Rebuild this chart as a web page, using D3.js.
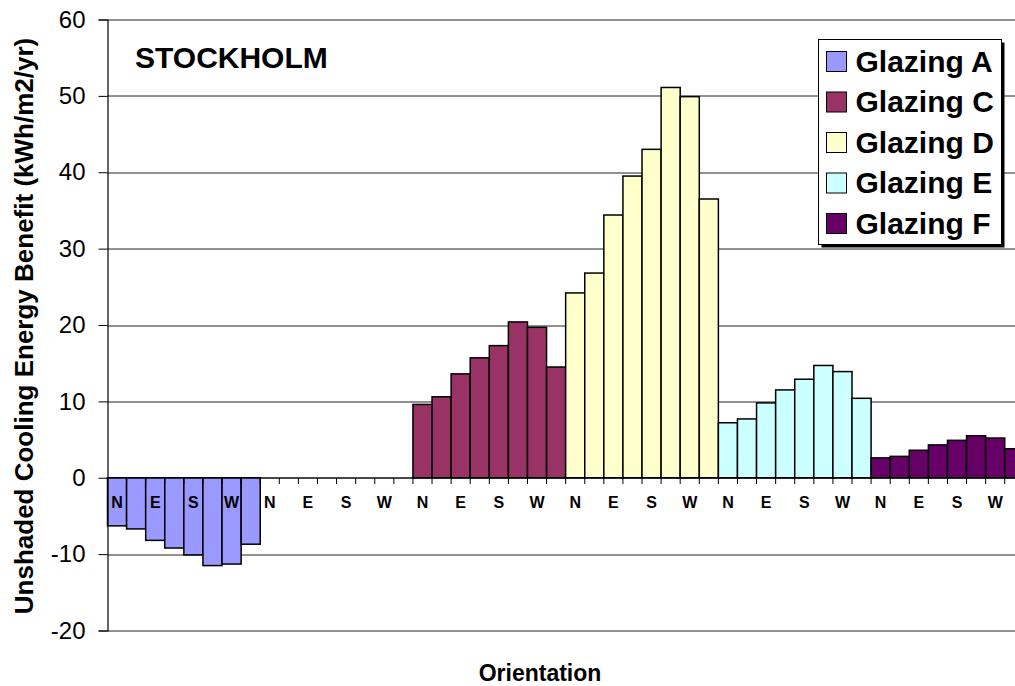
<!DOCTYPE html>
<html>
<head>
<meta charset="utf-8">
<script src="https://cdn.jsdelivr.net/npm/d3@7"></script>
<style>
	body { margin: 0; background: #fff; }
	text { font-family: "Liberation Sans", Arial, sans-serif; }
</style>
</head>
<body>
<div id="chart"></div>
<script>
// Orientations within each glazing group
const orientations = ['N', 'NE', 'E', 'SE', 'S', 'SW', 'W', 'NW'];
const shownLabels = ['N', 'E', 'S', 'W'];

// Glazing groups along the x-axis (B has no bars)
const glazings = ['A', 'B', 'C', 'D', 'E', 'F'];
const legendNames = ['Glazing A', 'Glazing C', 'Glazing D', 'Glazing E', 'Glazing F'];

// Cooling energy benefit per orientation (kWh/m2/yr)
const glazingA = [-6.3, -6.7, -8.2, -9.2, -10.1, -11.5, -11.3, -8.7];
const glazingB = [];
const glazingC = [9.6, 10.6, 13.6, 15.7, 17.3, 20.4, 19.7, 14.5];
const glazingD = [24.2, 26.8, 34.4, 39.5, 43.0, 51.1, 49.9, 36.5];
const glazingE = [7.2, 7.7, 9.8, 11.5, 12.9, 14.7, 13.9, 10.4];
const glazingF = [2.6, 2.8, 3.6, 4.3, 4.9, 5.5, 5.2, 3.8];

const yTicks = [-20, -10, 0, 10, 20, 30, 40, 50, 60];

const colours = {
	A: '#9999ff',
	B: '#ffffff',
	C: '#993366',
	D: '#ffffcc',
	E: '#ccffff',
	F: '#660066'
};

generateChart();

function generateChart() {
	const width = 1015;
	const height = 686;
	const left = 107.5;
	const top = 19.5;
	const bandWidth = 19.09;
	const chartWidth = bandWidth * glazings.length * orientations.length;
	const chartHeight = 611;

	const seriesValues = { A: glazingA, B: glazingB, C: glazingC, D: glazingD, E: glazingE, F: glazingF };

	// One slot per glazing/orientation pair
	const slots = [];
	glazings.forEach((g) => {
		orientations.forEach((o, i) => {
			slots.push({ glazing: g, orientation: o, key: g + '-' + o, value: seriesValues[g][i] });
		});
	});

	const xScale = d3.scaleBand()
		.domain(slots.map((s) => s.key))
		.range([0, chartWidth])
		.padding(0);

	const yScale = d3.scaleLinear()
		.domain([-20, 60])
		.range([chartHeight, 0]);

	const svg = d3.select('#chart')
		.append('svg')
		.attr('width', width)
		.attr('height', height);

	const canvas = svg.append('g')
		.attr('transform', `translate(${left}, ${top})`);

	// Horizontal gridlines
	canvas.append('g')
		.selectAll('line')
		.data(yTicks)
		.enter()
		.append('line')
		.attr('x1', 0)
		.attr('x2', chartWidth)
		.attr('y1', (d) => Math.round(yScale(d)) + 0.5)
		.attr('y2', (d) => Math.round(yScale(d)) + 0.5)
		.attr('stroke', '#222')
		.attr('stroke-width', 1);

	// Bars
	canvas.append('g')
		.selectAll('rect')
		.data(slots.filter((s) => s.value !== undefined))
		.enter()
		.append('rect')
		.attr('x', (d) => xScale(d.key))
		.attr('y', (d) => yScale(Math.max(0, d.value)))
		.attr('width', xScale.bandwidth())
		.attr('height', (d) => Math.abs(yScale(d.value) - yScale(0)))
		.attr('fill', (d) => colours[d.glazing])
		.attr('stroke', '#000')
		.attr('stroke-width', 1.5);

	// Category axis on the zero line, ticks at band edges
	const zeroY = Math.round(yScale(0)) + 0.5;
	canvas.append('line')
		.attr('x1', 0)
		.attr('x2', chartWidth)
		.attr('y1', zeroY)
		.attr('y2', zeroY)
		.attr('stroke', '#000')
		.attr('stroke-width', 1.2);

	canvas.append('g')
		.selectAll('line')
		.data(slots)
		.enter()
		.append('line')
		.attr('x1', (d) => xScale(d.key))
		.attr('x2', (d) => xScale(d.key))
		.attr('y1', zeroY)
		.attr('y2', zeroY + 6)
		.attr('stroke', '#000');

	canvas.append('g')
		.selectAll('text')
		.data(slots.filter((s) => shownLabels.includes(s.orientation)))
		.enter()
		.append('text')
		.attr('x', (d) => xScale(d.key) + xScale.bandwidth() / 2)
		.attr('y', zeroY + 30)
		.attr('text-anchor', 'middle')
		.attr('font-size', '16px')
		.attr('font-weight', 'bold')
		.text((d) => d.orientation);

	// Y axis
	const yAxis = canvas.append('g')
		.call(d3.axisLeft(yScale)
			.tickValues(yTicks)
			.tickFormat((d) => String(d))
			.tickSize(9)
			.tickPadding(13));
	yAxis.attr('font-size', null).attr('font-family', null);
	yAxis.select('.domain').attr('stroke', '#000').attr('stroke-width', 1.2);
	yAxis.selectAll('.tick line').attr('stroke', '#000');
	yAxis.selectAll('.tick text')
		.attr('font-size', '24px')
		.attr('fill', '#000');

	// City label
	svg.append('text')
		.attr('x', 135)
		.attr('y', 68)
		.attr('font-size', '30px')
		.attr('font-weight', 'bold')
		.text('STOCKHOLM');

	// Axis titles
	svg.append('text')
		.attr('x', 540)
		.attr('y', 681)
		.attr('text-anchor', 'middle')
		.attr('font-size', '23px')
		.attr('font-weight', 'bold')
		.text('Orientation');

	svg.append('text')
		.attr('transform', 'translate(33, 326) rotate(-90)')
		.attr('text-anchor', 'middle')
		.attr('font-size', '26px')
		.attr('font-weight', 'bold')
		.text('Unshaded Cooling Energy Benefit (kWh/m2/yr)');

	// Legend
	const legendX = 818.5;
	const legendY = 39.5;
	const legendW = 183;
	const legendH = 205;
	const legend = svg.append('g');
	legend.append('rect')
		.attr('x', legendX + 3)
		.attr('y', legendY + 3)
		.attr('width', legendW)
		.attr('height', legendH)
		.attr('fill', '#000');
	legend.append('rect')
		.attr('x', legendX)
		.attr('y', legendY)
		.attr('width', legendW)
		.attr('height', legendH)
		.attr('fill', '#fff')
		.attr('stroke', '#000');

	const legendKeys = glazings.filter((g) => seriesValues[g].length > 0);
	const items = legend.selectAll('.item')
		.data(legendKeys)
		.enter()
		.append('g')
		.attr('transform', (d, i) => `translate(${legendX + 8}, ${legendY + 22 + i * 40.5})`);
	items.append('rect')
		.attr('x', 0)
		.attr('y', -10)
		.attr('width', 20)
		.attr('height', 20)
		.attr('fill', (d) => colours[d])
		.attr('stroke', '#000');
	items.append('text')
		.attr('x', 29)
		.attr('y', 10)
		.attr('font-size', '30px')
		.attr('font-weight', 'bold')
		.text((d, i) => legendNames[i]);
}
</script>
</body>
</html>
